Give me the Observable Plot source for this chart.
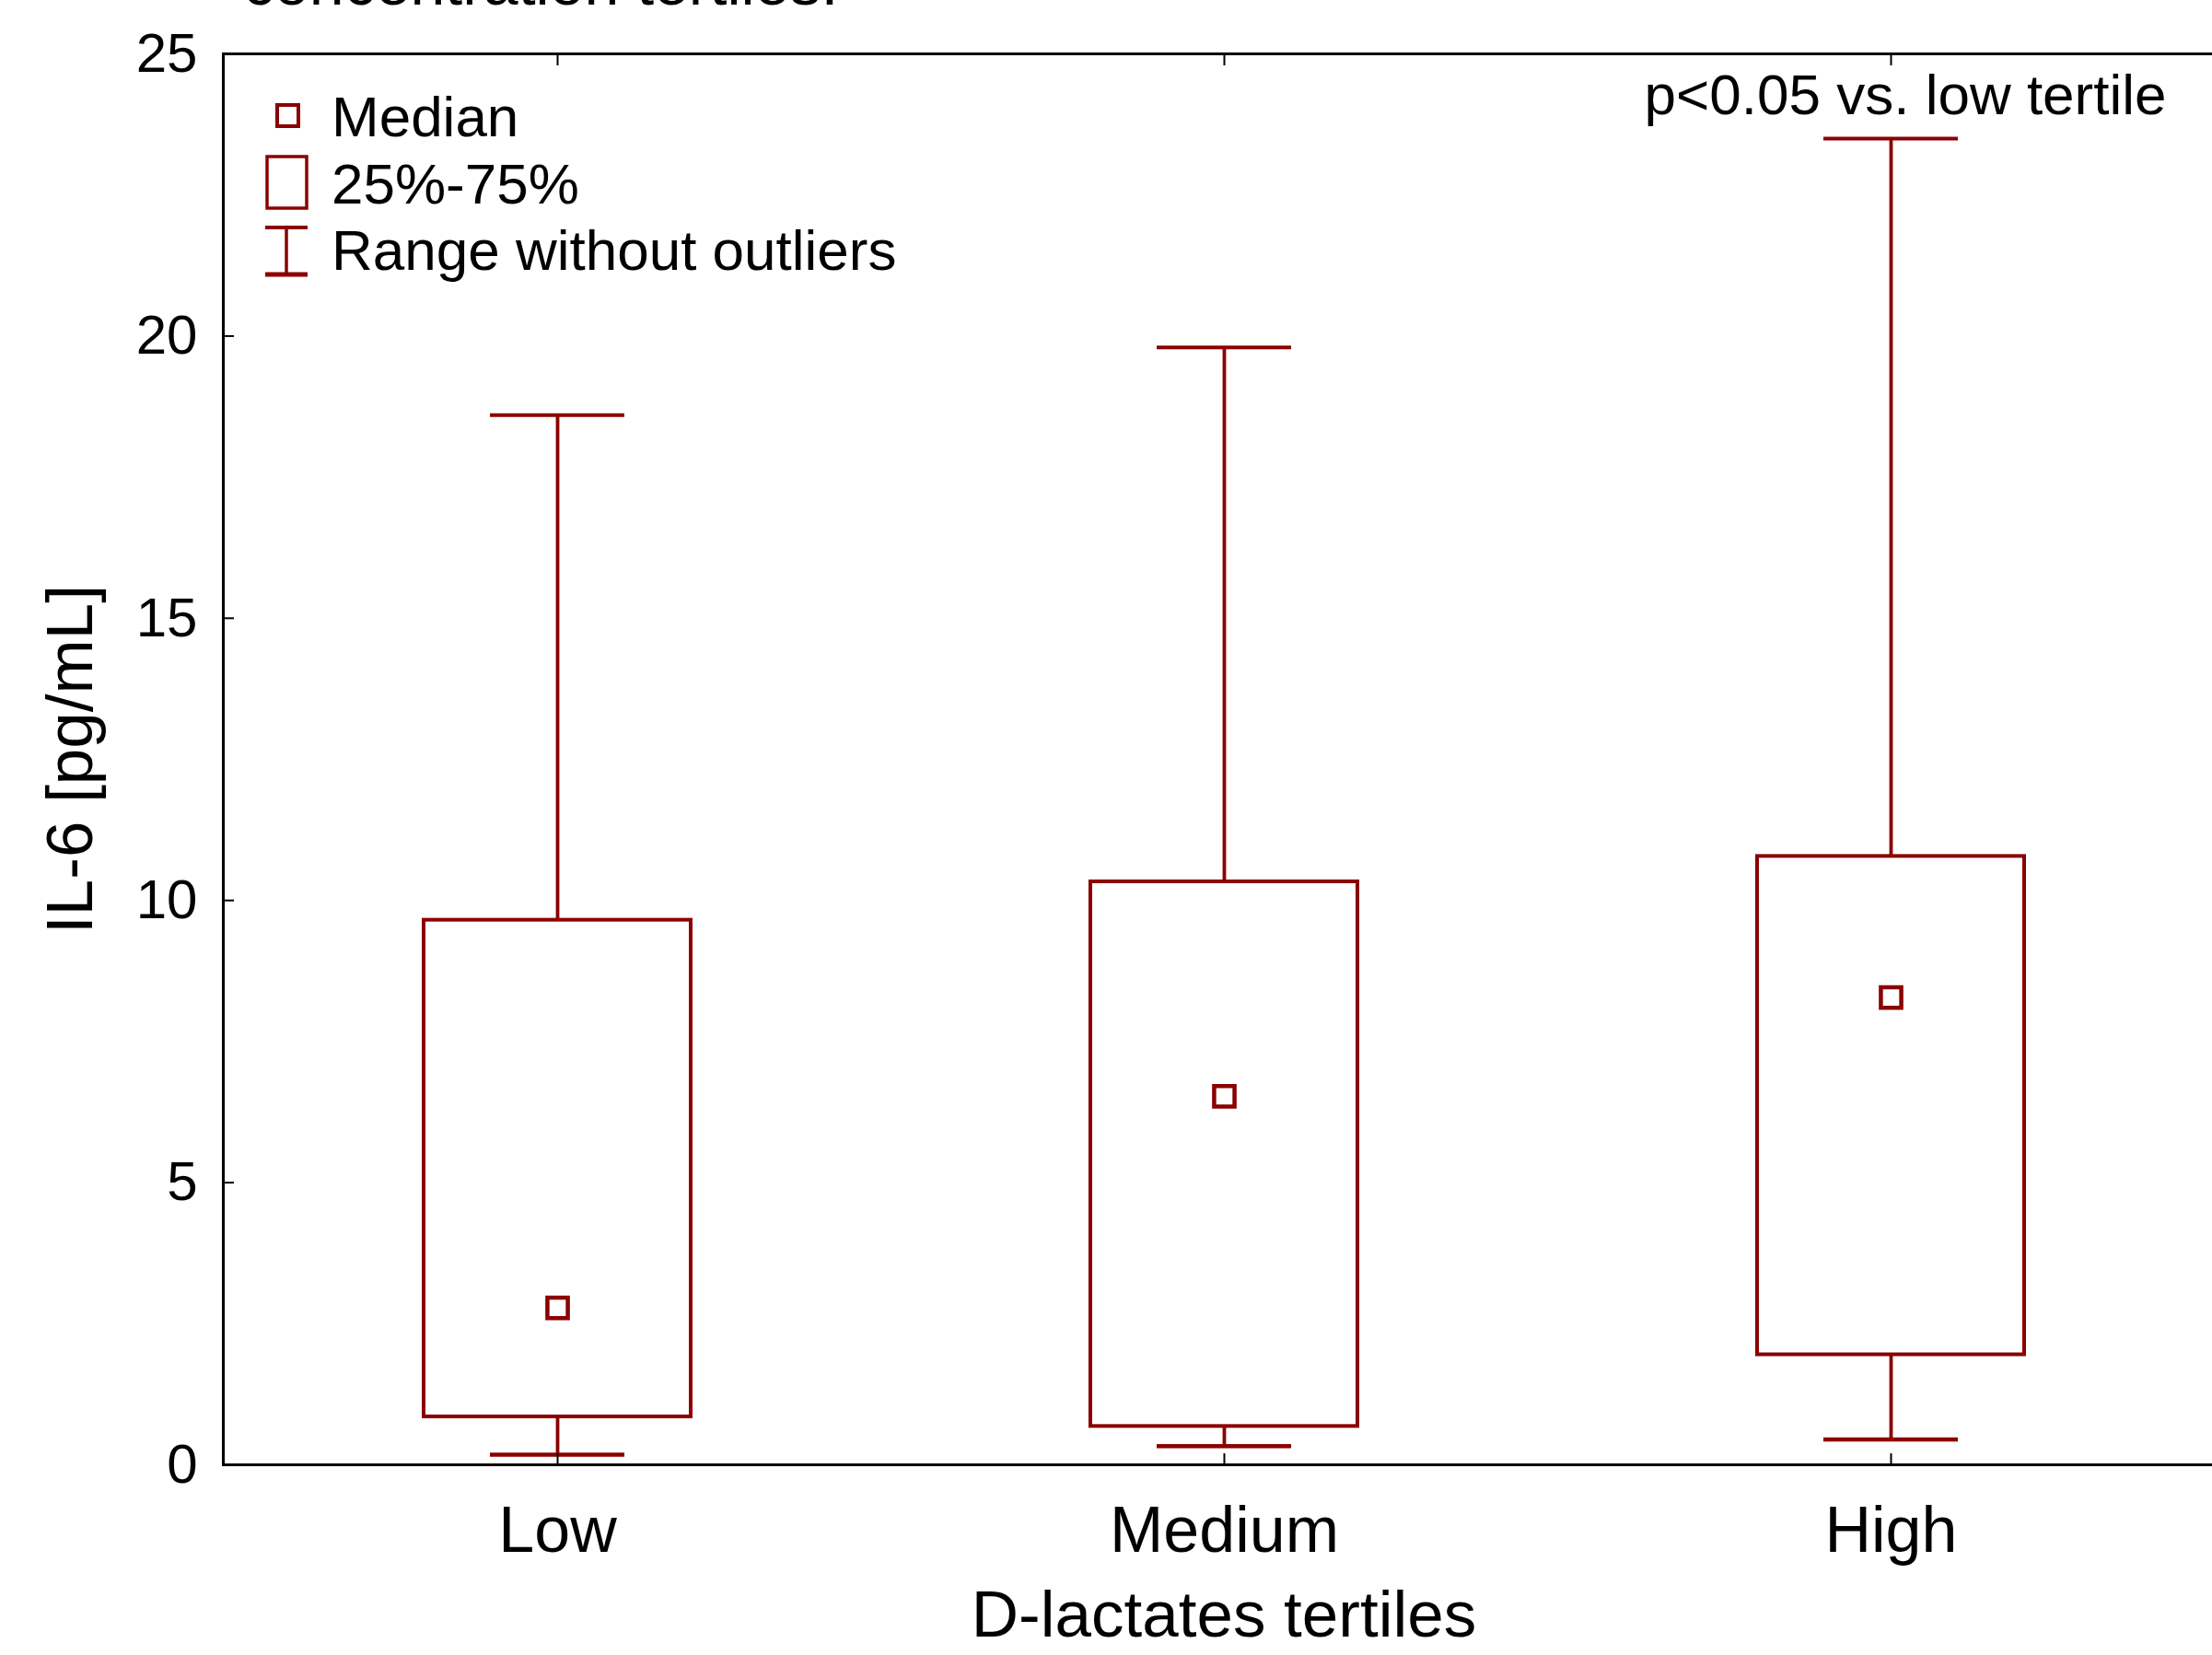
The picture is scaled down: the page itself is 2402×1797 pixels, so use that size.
<!DOCTYPE html>
<html>
<head>
<meta charset="utf-8">
<script src="https://cdn.jsdelivr.net/npm/d3@7"></script>
<script src="https://cdn.jsdelivr.net/npm/@observablehq/plot@0.6"></script>
<style>
  body { margin: 0; background: #fff; }
  #wrap { position: relative; width: 2402px; height: 1797px; overflow: hidden; background: #fff;
          font-family: "Liberation Sans", Arial, sans-serif; }
  #chart { position: absolute; left: 0; top: 0; }
  #overlay { position: absolute; left: 0; top: 0; pointer-events: none; }
</style>
</head>
<body>
<div id="wrap">
  <div id="chart"></div>
  <svg id="overlay" width="2402" height="1797"></svg>
</div>
<script>
// ---- data ----
const categories = ["Low", "Medium", "High"];
const mins    = [0.18, 0.33, 0.45];
const q1s     = [0.85, 0.68, 1.95];
const medians = [2.78, 6.53, 8.28];
const q3s     = [9.65, 10.33, 10.78];
const maxs    = [18.6, 19.8, 23.5];
const yTicks  = [0, 5, 10, 15, 20, 25];
const legendLabels = ["Median", "25%-75%", "Range without outliers"];
const annotation = "p<0.05 vs. low tertile";
const xLabel = "D-lactates tertiles";
const yLabel = "IL-6 [pg/mL]";
const titleTail = "concentration tertiles.";

const RED = "#8b0000";
const FONT = "Liberation Sans, Arial, sans-serif";

const data = categories.map((c, i) => ({
  cat: c, min: mins[i], q1: q1s[i], median: medians[i], q3: q3s[i], max: maxs[i]
}));

const chart = Plot.plot({
  width: 2402,
  height: 1797,
  marginLeft: 242,
  marginRight: -13,
  marginTop: 58,
  marginBottom: 207,
  style: { fontFamily: FONT, color: "black", background: "white", overflow: "visible" },
  x: { domain: categories, padding: 0, label: null },
  y: { domain: [0, 25], label: null },
  marks: [
    Plot.ruleX(data, { x: "cat", y1: "q3", y2: "max", stroke: RED, strokeWidth: 3.8 }),
    Plot.ruleX(data, { x: "cat", y1: "min", y2: "q1", stroke: RED, strokeWidth: 3.8 }),
    Plot.tickY(data, { x: "cat", y: "max", stroke: RED, strokeWidth: 4, insetLeft: 289, insetRight: 289 }),
    Plot.tickY(data, { x: "cat", y: "min", stroke: RED, strokeWidth: 4.5, insetLeft: 289, insetRight: 289 }),
    Plot.barY(data, { x: "cat", y1: "q1", y2: "q3", fill: "white", stroke: RED, strokeWidth: 4,
                      insetLeft: 217, insetRight: 217 }),
    Plot.dot(data, { x: "cat", y: "median", symbol: "square", r: 12.5, fill: "white",
                     stroke: RED, strokeWidth: 4.5 }),
    Plot.axisY({ ticks: yTicks, tickSize: -12, tickPadding: 40, fontSize: 60, label: null,
                 strokeWidth: 2, tickFormat: d => String(d) }),
    Plot.axisX({ anchor: "bottom", tickSize: -12, tickPadding: 57, fontSize: 70, label: null, strokeWidth: 2 }),
    Plot.axisX({ anchor: "top", tickSize: -12, tickFormat: () => "", label: null, strokeWidth: 2 }),
    Plot.frame({ stroke: "black", strokeWidth: 3 }),
    Plot.text([annotation], { frameAnchor: "top-right", dx: -63, dy: 21, fontSize: 62,
                              textAnchor: "end", fill: "black" }),
    Plot.text([xLabel], { frameAnchor: "bottom", dy: 186, fontSize: 71, fill: "black" }),
    Plot.text([yLabel], { frameAnchor: "left", dx: -165, rotate: -90, fontSize: 71,
                          textAnchor: "middle", fill: "black" })
  ]
});
document.getElementById("chart").appendChild(chart);

// ---- overlay: legend and cut-off caption ----
const ov = d3.select("#overlay");
ov.append("text")
  .attr("x", 264).attr("y", 5)
  .attr("font-family", FONT).attr("font-size", 68).attr("fill", "black")
  .text(titleTail);

const lg = ov.append("g");
// Median symbol
lg.append("rect").attr("x", 301).attr("y", 114).attr("width", 23).attr("height", 23)
  .attr("fill", "white").attr("stroke", RED).attr("stroke-width", 4);
// 25%-75% box symbol
lg.append("rect").attr("x", 290).attr("y", 170).attr("width", 43).attr("height", 56)
  .attr("fill", "white").attr("stroke", RED).attr("stroke-width", 3.5);
// whisker symbol
lg.append("line").attr("x1", 311).attr("x2", 311).attr("y1", 247).attr("y2", 298)
  .attr("stroke", RED).attr("stroke-width", 3.5);
lg.append("line").attr("x1", 288).attr("x2", 334).attr("y1", 247).attr("y2", 247)
  .attr("stroke", RED).attr("stroke-width", 4);
lg.append("line").attr("x1", 288).attr("x2", 334).attr("y1", 298).attr("y2", 298)
  .attr("stroke", RED).attr("stroke-width", 5);
const baselines = [148, 221, 293];
legendLabels.forEach((t, i) => {
  lg.append("text").attr("x", 360).attr("y", baselines[i])
    .attr("font-family", FONT).attr("font-size", 62).attr("fill", "black").text(t);
});
</script>
</body>
</html>
